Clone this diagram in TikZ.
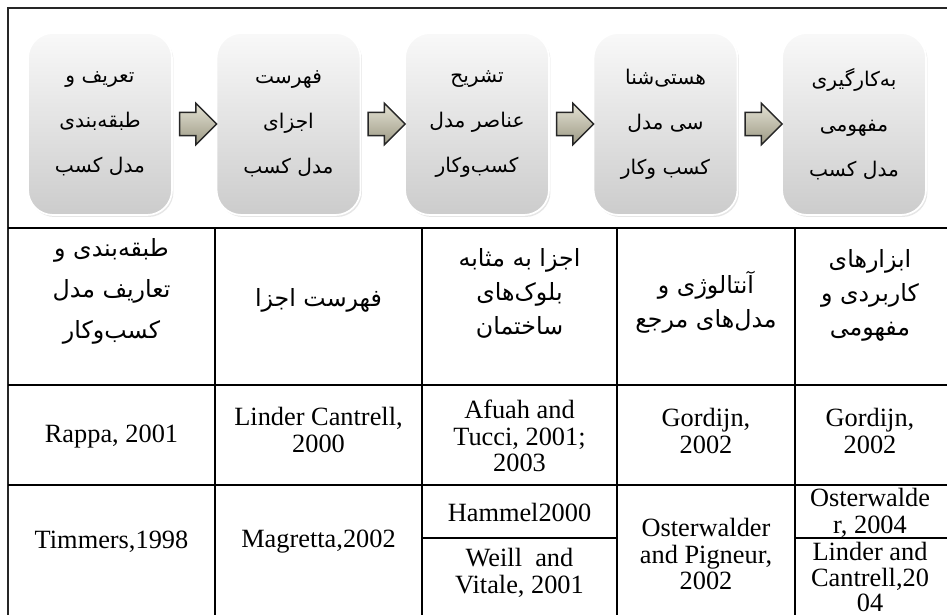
\documentclass[tikz,border=0pt]{standalone}
\usepackage{fontspec}
\setmainfont{Liberation Serif}
\newfontfamily\persianfont[Script=Arabic]{DejaVu Sans}
\TeXXeTstate=1
\usepackage{xcolor}
\usepackage{tikz}
\usetikzlibrary{positioning,shapes.arrows,shadows}
\definecolor{arrowlight}{HTML}{E4E2D4}
\definecolor{arrowdark}{HTML}{9C9984}
\newcommand{\fa}[1]{\beginR #1\endR}
\newcommand{\tightlines}{\lineskiplimit=-20pt\relax\lineskip=0pt\relax}
\tikzset{
  stage/.style={rounded corners=0.5cm, minimum width=2.88cm, minimum height=3.64cm,
    top color=gray!5, bottom color=gray!40, draw=white, line width=1pt, align=center,
    font=\persianfont\fontsize{11.5}{25.6}\selectfont,
    drop shadow={opacity=0.2, shadow xshift=0.03cm, shadow yshift=-0.04cm}},
  flowarrow/.style={single arrow, single arrow head extend=0.18cm, minimum height=0.74cm,
    inner xsep=0pt, inner ysep=0.22cm, top color=arrowlight, bottom color=arrowdark,
    draw=black!85, line width=0.8pt},
  frameline/.style={line width=1.7pt, black!85},
  gridline/.style={line width=1.1pt},
  cellfa/.style={align=center, font=\persianfont\fontsize{13.5}{19.3}\selectfont\tightlines},
  cellen/.style={align=center, font=\fontsize{15}{15}\selectfont}
}
\begin{document}
\begin{tikzpicture}[x=0.02cm,y=-0.02cm]
\useasboundingbox (0,0) rectangle (947,615);
\foreach \i/\x/\txt in {1/100/{\fa{تعریف و}\\\fa{طبقه^^^^200cبندی}\\\fa{مدل کسب}},
    2/288.5/{\fa{فهرست}\\\fa{اجزای}\\\fa{مدل کسب}},
    3/477/{\fa{تشریح}\\\fa{عناصر مدل}\\\fa{کسب^^^^200cوکار}},
    4/665.5/{\fa{هستی^^^^200cشنا}\\\fa{سی مدل}\\\fa{کسب وکار}},
    5/854/{\fa{به^^^^200cکارگیری}\\\fa{مفهومی}\\\fa{مدل کسب}}}
  \node[stage] (b\i) at (\x,124) {\txt};
\foreach \i in {1,...,4}
  \node[flowarrow, right=0.12cm of b\i] (a\i) {};

\draw[frameline] (8,615) -- (8,8) -- (947,8);
\draw[gridline] (8,228) -- (947,228) (8,385) -- (947,385) (8,485) -- (947,485)
  (422,538) -- (617,538) (795,538) -- (947,538);
\foreach \x in {215,422,617,795}
  \draw[gridline] (\x,228) -- (\x,615);

\node[cellfa, font=\persianfont\fontsize{13.5}{23.3}\selectfont\tightlines] (h1) at (111.5,291)
  {\fa{طبقه^^^^200cبندی و}\\\fa{تعاریف مدل}\\\fa{کسب^^^^200cوکار}};
\node[cellfa] (h2) at (318.5,300) {\fa{فهرست اجزا}};
\node[cellfa] (h3) at (519.5,293)
  {\fa{اجزا به مثابه}\\\fa{بلوک^^^^200cهای}\\\fa{ساختمان}};
\node[cellfa] (h4) at (706,302)
  {\fa{آنتالوژی و}\\\fa{مدل^^^^200cهای مرجع}};
\node[cellfa] (h5) at (870,295)
  {\fa{ابزارهای}\\\fa{کاربردی و}\\\fa{مفهومی}};

\node[cellen] (r1) at (111.5,437) {Rappa, 2001};
\node[cellen] (r2) at (318.5,430) {Linder Cantrell,\\2000};
\node[cellen] (r3) at (519.5,436) {Afuah and\\Tucci, 2001;\\2003};
\node[cellen] (r4) at (706,431) {Gordijn,\\2002};
\node[cellen] (r5) at (870,431) {Gordijn,\\2002};

\node[cellen] (s1) at (111.5,542) {Timmers,1998};
\node[cellen] (s2) at (318.5,542) {Magretta,2002};
\node[cellen] (s3) at (519.5,512) {Hammel2000};
\node[cellen] (s3b) at (519.5,573) {Weill~ and\\Vitale, 2001};
\node[cellen] (s4) at (706,554) {Osterwalder\\and Pigneur,\\2002};
\node[cellen] (s5) at (870,513) {Osterwalde\\r, 2004};
\node[cellen, font=\fontsize{15}{14.5}\selectfont] (s5b) at (870,577) {Linder and\\Cantrell,20\\04};
\end{tikzpicture}
\end{document}
